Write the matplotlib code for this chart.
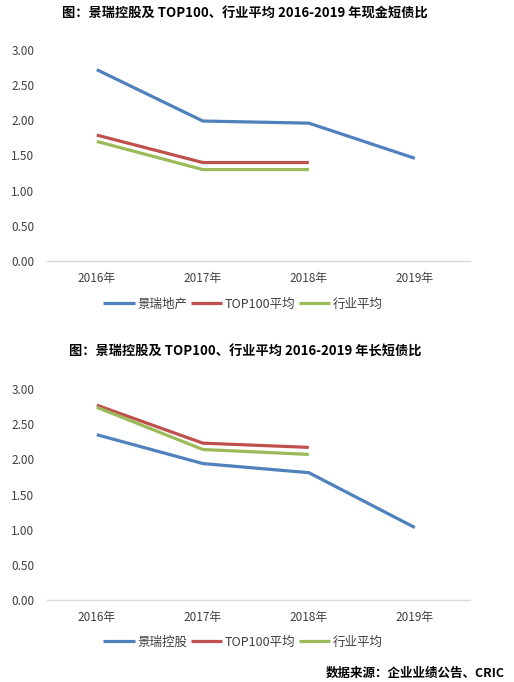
import matplotlib
matplotlib.use("Agg")
import matplotlib.pyplot as plt

plt.rcParams['font.family'] = ['Noto Sans CJK SC', 'DejaVu Sans']

years = ["2016年", "2017年", "2018年", "2019年"]

# Chart 1: cash / short-term debt ratio
cash_jr = [2.72, 1.99, 1.96, 1.46]
cash_top100 = [1.79, 1.40, 1.40]
cash_industry = [1.70, 1.30, 1.30]

# Chart 2: long / short-term debt ratio
ls_jr = [2.35, 1.94, 1.81, 1.03]
ls_top100 = [2.77, 2.23, 2.17]
ls_industry = [2.74, 2.14, 2.07]

yticks = [0.0, 0.5, 1.0, 1.5, 2.0, 2.5, 3.0]

title1 = "图：景瑞控股及 TOP100、行业平均 2016-2019 年现金短债比"
title2 = "图：景瑞控股及 TOP100、行业平均 2016-2019 年长短债比"
labels1 = ["景瑞地产", "TOP100平均", "行业平均"]
labels2 = ["景瑞控股", "TOP100平均", "行业平均"]
source = "数据来源：企业业绩公告、CRIC"

colors = ["#4F81BD", "#C0504D", "#9BBB59"]

W, H = 514, 682
fig = plt.figure(figsize=(W / 100, H / 100), dpi=100)


def draw(ax_rect, title, title_y, jr, top, ind, labels, legend_y):
    ax = fig.add_axes(ax_rect)
    x = list(range(len(years)))
    ax.plot(x[:len(jr)], jr, color=colors[0], lw=2.3, label=labels[0], solid_capstyle='butt')
    ax.plot(x[:len(top)], top, color=colors[1], lw=2.3, label=labels[1], solid_capstyle='butt')
    ax.plot(x[:len(ind)], ind, color=colors[2], lw=2.3, label=labels[2], solid_capstyle='butt')
    ax.set_xlim(-0.47, 3.52)
    ax.set_ylim(0, 3.0)
    ax.set_yticks(yticks)
    ax.set_yticklabels([f"{v:.2f}" for v in yticks], fontsize=8.5, color="#404040")
    ax.set_xticks(x)
    ax.set_xticklabels(years, fontsize=8.5, color="#404040")
    ax.tick_params(length=0, pad=8)
    ax.tick_params(axis='y', pad=9)
    for s in ["top", "right", "left"]:
        ax.spines[s].set_visible(False)
    ax.spines["bottom"].set_color("#D9D9D9")
    ax.spines["bottom"].set_linewidth(1)
    fig.text(245 / W, 1 - title_y / H, title, ha="center", va="center",
             fontsize=9.5, fontweight="bold", color="#000000")
    fig.legend(handles=ax.get_lines(), labels=labels, loc="center",
               bbox_to_anchor=(243 / W, 1 - legend_y / H), ncol=3, frameon=False,
               fontsize=9, handlelength=2.5, handletextpad=0.2, columnspacing=0.3,
               labelcolor="#404040")
    return ax


draw([47 / W, 1 - 261 / H, 423 / W, 211 / H], title1, 14, cash_jr, cash_top100,
     cash_industry, labels1, 304)
draw([47 / W, 1 - 600 / H, 423 / W, 211 / H], title2, 352, ls_jr, ls_top100,
     ls_industry, labels2, 642)

fig.text(505 / W, 1 - 673 / H, source, ha="right", va="center", fontsize=9,
         fontweight="bold", color="#000000")

fig.savefig("out.png", dpi=100, facecolor="white")
